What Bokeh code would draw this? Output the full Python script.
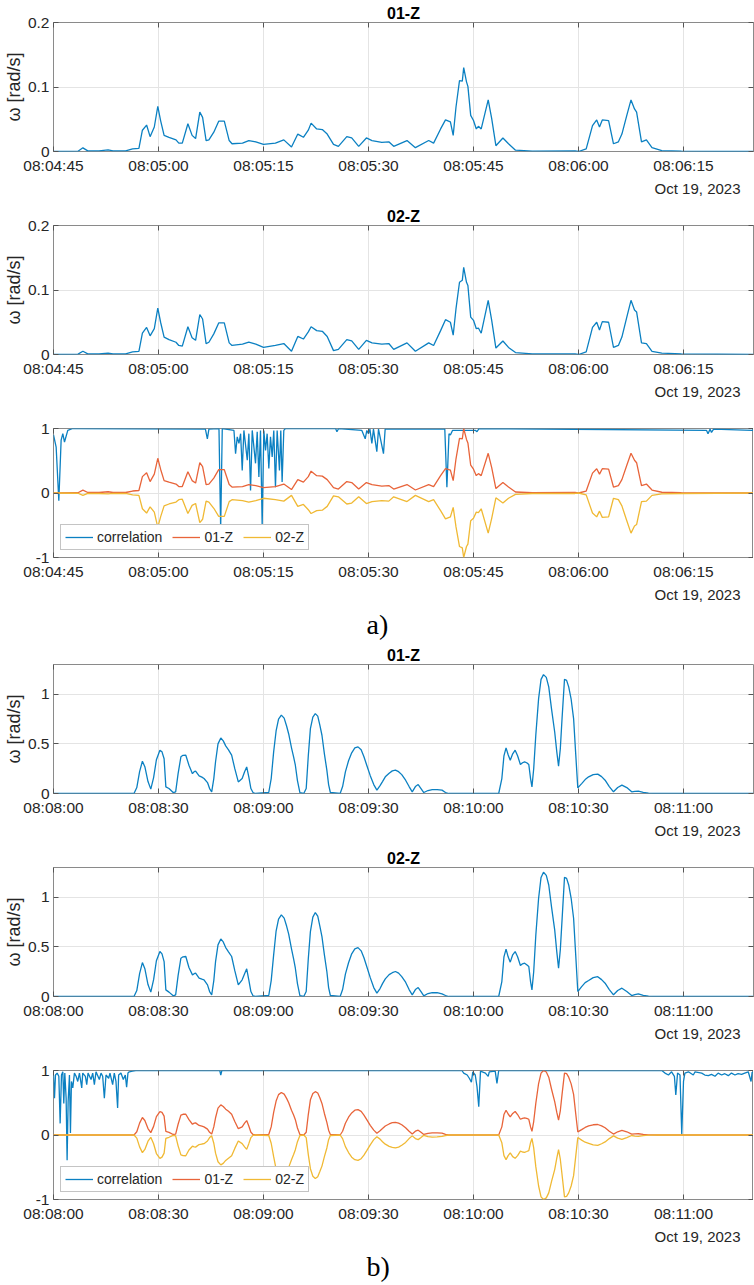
import numpy as np
import pandas as pd
from bokeh.plotting import figure
from bokeh.layouts import column
from bokeh.models import (Range1d, FixedTicker, DatetimeTickFormatter, Title,
                          LinearAxis, DatetimeAxis)
from bokeh.embed import file_html
from bokeh.resources import INLINE

# ---------------- data ----------------
DATE = "2023-10-19"
DATE_LABEL = "Oct 19, 2023"
A_START, A_END = "08:04:45", "08:06:25"
B_START, B_END = "08:08:00", "08:11:20"
A_XTICKS = ["08:04:45", "08:05:00", "08:05:15", "08:05:30", "08:05:45", "08:06:00", "08:06:15"]
B_XTICKS = ["08:08:00", "08:08:30", "08:09:00", "08:09:30", "08:10:00", "08:10:30", "08:11:00"]
OMEGA_A_YTICKS = [0, 0.1, 0.2]
OMEGA_A_YLABELS = ["0", "0.1", "0.2"]
OMEGA_B_YTICKS = [0, 0.5, 1]
OMEGA_B_YLABELS = ["0", "0.5", "1"]
CORR_YTICKS = [-1, 0, 1]
CORR_YLABELS = ["-1", "0", "1"]
OMEGA_A_YMAX = 0.2
OMEGA_B_YMAX = 1.3
YLABEL = "ω [rad/s]"
TITLE_01 = "01-Z"
TITLE_02 = "02-Z"
LEGEND_LABELS = ["correlation", "01-Z", "02-Z"]
PANEL_TAGS = ["a)", "b)"]

# event a) : seconds after 08:04:45
A_T = [0, 3.5, 4.2, 4.9, 6.5, 7.8, 8.5, 10.3, 11.3, 12.2,
       12.7, 13.3, 13.8, 14.4, 14.9, 15.3, 15.8, 16.5, 17.5, 17.9,
       18.4, 19.2, 19.8, 20.3, 20.9, 21.3, 21.8, 22.2, 22.9, 23.6,
       24.4, 25.1, 25.5, 27.0, 27.9, 28.9, 30.0, 31.7, 32.9, 34.0,
       34.9, 35.7, 36.4, 36.8, 37.6, 38.4, 39.1, 40.0, 40.7, 41.9,
       42.6, 43.6, 44.7, 45.5, 46.9, 47.9, 48.6, 50.5, 51.7, 53.6,
       54.3, 55.3, 56.0, 56.7, 57.1, 57.5, 58.0, 58.4, 58.6, 59.0,
       59.2, 59.6, 60.0, 60.4, 60.7, 61.1, 62.1, 62.6, 63.2, 64.2,
       65.0, 66.0, 68.4, 74.5, 75.0, 76.1, 77.0, 77.6, 78.0, 78.4,
       79.3, 80.0, 80.7, 81.2, 81.9, 82.5, 83.0, 83.3, 84.0, 84.7,
       85.5, 86.9, 89.7, 100]
A_01Z = [0, 0.0005, 0.0057, 0.001, 0.001, 0.0025, 0.001, 0.001, 0.004, 0.005,
         0.033, 0.041, 0.023, 0.038, 0.070, 0.048, 0.025, 0.022, 0.018, 0.013,
         0.013, 0.043, 0.025, 0.020, 0.061, 0.053, 0.017, 0.018, 0.030, 0.047,
         0.047, 0.017, 0.012, 0.013, 0.017, 0.015, 0.011, 0.013, 0.018, 0.007,
         0.027, 0.022, 0.033, 0.044, 0.035, 0.034, 0.027, 0.011, 0.008, 0.023,
         0.021, 0.008, 0.021, 0.017, 0.014, 0.015, 0.008, 0.017, 0.006, 0.017,
         0.013, 0.035, 0.049, 0.046, 0.025, 0.069, 0.110, 0.109, 0.130, 0.108,
         0.101, 0.056, 0.048, 0.035, 0.039, 0.035, 0.080, 0.051, 0.009, 0.021,
         0.012, 0.002, 0.0005, 0.001, 0, 0.004, 0.040, 0.049, 0.038, 0.049,
         0.048, 0.012, 0.015, 0.027, 0.056, 0.080, 0.066, 0.061, 0.015, 0.018,
         0.006, 0.0015, 0.0005, 0]
A_02Z = [0, 0.0005, 0.005, 0.001, 0.001, 0.002, 0.001, 0.001, 0.004, 0.005,
         0.033, 0.042, 0.029, 0.040, 0.072, 0.050, 0.027, 0.023, 0.019, 0.014,
         0.013, 0.043, 0.026, 0.022, 0.062, 0.055, 0.017, 0.019, 0.032, 0.049,
         0.049, 0.018, 0.014, 0.016, 0.019, 0.016, 0.011, 0.014, 0.017, 0.005,
         0.028, 0.024, 0.035, 0.043, 0.037, 0.036, 0.028, 0.006, 0.008, 0.023,
         0.021, 0.008, 0.022, 0.018, 0.016, 0.017, 0.008, 0.018, 0.005, 0.018,
         0.014, 0.037, 0.054, 0.050, 0.030, 0.071, 0.112, 0.115, 0.135, 0.112,
         0.107, 0.058, 0.053, 0.040, 0.041, 0.033, 0.084, 0.053, 0.010, 0.021,
         0.011, 0.003, 0.001, 0.001, 0, 0.004, 0.042, 0.050, 0.038, 0.051,
         0.050, 0.011, 0.014, 0.027, 0.058, 0.084, 0.069, 0.066, 0.018, 0.017,
         0.005, 0.002, 0.001, 0]
A_CORR_T = [0, 0.38, 0.76, 1.09, 1.33, 1.57, 2.04, 2.75, 21.7, 21.98, 22.2,
            23.64, 23.88, 24.11, 25.78, 26.01, 26.25, 26.49, 26.73, 26.96, 27.2,
            27.68, 27.91, 28.15, 28.39, 28.86, 29.1, 29.34, 29.57, 29.81, 30.05,
            30.29, 30.52, 30.76, 31.0, 31.24, 31.47, 31.71, 31.95, 32.28, 32.47,
            32.66, 32.9, 33.13, 40.3, 40.49, 40.73, 44.05, 44.53, 44.76, 45.0,
            45.2, 45.48, 45.71, 46.19, 46.43, 47.14, 47.38, 55.9, 56.2, 56.5,
            56.7, 57.0, 60.3, 60.5, 60.8, 93.3, 93.5, 93.8, 94.0, 94.3, 99.8, 100]
A_CORR = [0.90, 0.71, -0.12, 0.82, 0.92, 0.79, 0.97, 1.0, 0.99, 0.84, 0.99,
          1.0, -0.55, 1.0, 0.97, 0.61, 0.87, 0.77, 0.92, 0.35, 0.97,
          0.51, 0.92, 0.04, 0.97, 0.46, 0.95, 0.25, 0.97, -0.50, 0.97,
          0.66, 0.92, 0.38, 0.87, 0.56, 0.97, 0.09, 0.97, 0.35, 0.97,
          0.17, 0.97, 1.0, 1.0, 0.95, 1.0, 0.97, 0.84, 0.97, 0.92,
          0.99, 0.77, 0.99, 0.64, 0.99, 0.61, 0.99, 0.99, 0.09, 0.92,
          0.90, 0.97, 0.97, 0.95, 1.0, 0.97, 0.92, 0.99, 0.94, 0.99, 0.97, 0.98]

# event b) : seconds after 08:08:00
B_T = [0, 23.0, 23.8, 24.6, 25.4, 26.1, 27.0, 27.8, 28.6, 29.4,
       30.4, 31.0, 31.6, 32.1, 33.0, 34.2, 34.9, 35.6, 36.4, 37.0,
       37.8, 38.7, 39.7, 40.2, 40.6, 41.6, 42.4, 43.0, 44.0, 44.6,
       45.2, 45.8, 46.3, 47.0, 47.8, 48.5, 49.2, 50.0, 50.9, 51.8,
       52.8, 53.9, 54.6, 55.2, 55.8, 56.4, 57.0, 57.7, 61.5, 62.2,
       62.9, 63.6, 64.3, 65.1, 65.9, 66.6, 67.2, 68.0, 68.6, 69.1,
       69.7, 70.4, 71.5, 72.2, 72.8, 73.4, 74.1, 74.8, 75.5, 76.1,
       76.7, 77.4, 78.1, 78.6, 79.1, 81.9, 82.6, 83.4, 84.3, 85.2,
       86.1, 87.0, 87.9, 88.7, 89.5, 90.5, 91.5, 92.4, 93.3, 94.0,
       94.8, 95.9, 96.8, 97.7, 98.6, 99.5, 100.6, 101.6, 102.5, 103.4,
       104.2, 105.0, 105.8, 107.0, 108.2, 109.6, 111.0, 112.0, 112.9, 127.2,
       128.1, 128.7, 129.3, 129.9, 130.5, 131.2, 131.9, 132.6, 133.4, 134.0,
       134.6, 135.2, 135.8, 136.3, 136.7, 137.2, 137.8, 138.6, 139.3, 140.0,
       140.8, 141.5, 142.3, 143.2, 143.8, 144.3, 144.8, 145.3, 146.0, 146.6,
       147.2, 147.9, 148.6, 149.2, 149.8, 150.9, 151.9, 152.9, 154.2, 155.5,
       156.6, 157.6, 158.8, 160.0, 161.2, 162.4, 163.8, 165.2, 166.1, 167.1,
       168.5, 170.0, 172.8, 200]
B_01Z = [0, 0, 0.06, 0.22, 0.325, 0.27, 0.12, 0.044, 0.16, 0.34,
         0.436, 0.42, 0.35, 0.067, 0.05, 0.01, 0.017, 0.20, 0.37, 0.385,
         0.386, 0.285, 0.20, 0.22, 0.225, 0.178, 0.165, 0.151, 0.11, 0.05,
         0.017, 0.15, 0.32, 0.50, 0.56, 0.53, 0.48, 0.44, 0.386, 0.25,
         0.117, 0.151, 0.22, 0.268, 0.168, 0.05, 0.01, 0, 0.01, 0.15,
         0.42, 0.63, 0.75, 0.79, 0.76, 0.68, 0.60, 0.46, 0.37, 0.285,
         0.13, 0.01, 0, 0.05, 0.38, 0.654, 0.77, 0.805, 0.78, 0.69,
         0.587, 0.40, 0.235, 0.09, 0.01, 0, 0.07, 0.218, 0.33, 0.41,
         0.46, 0.47, 0.44, 0.37, 0.285, 0.18, 0.09, 0.034, 0.08, 0.12,
         0.168, 0.205, 0.228, 0.235, 0.22, 0.19, 0.134, 0.07, 0.017, 0.07,
         0.09, 0.05, 0.01, 0.03, 0.04, 0.04, 0.034, 0.01, 0, 0,
         0.151, 0.38, 0.46, 0.39, 0.336, 0.40, 0.436, 0.38, 0.292, 0.31,
         0.319, 0.31, 0.292, 0.15, 0.067, 0.25, 0.587, 0.956, 1.15, 1.198,
         1.17, 1.074, 0.85, 0.62, 0.42, 0.275, 0.45, 0.755, 1.151, 1.14,
         1.074, 0.95, 0.755, 0.40, 0.057, 0.1, 0.14, 0.168, 0.19, 0.195,
         0.17, 0.134, 0.07, 0.017, 0.06, 0.084, 0.06, 0.017, 0.022, 0.023,
         0.012, 0.003, 0, 0]
B_02Z = [0, 0, 0.06, 0.23, 0.342, 0.28, 0.12, 0.044, 0.17, 0.36,
         0.453, 0.43, 0.352, 0.067, 0.044, 0.007, 0.017, 0.21, 0.386, 0.40,
         0.403, 0.292, 0.218, 0.23, 0.235, 0.185, 0.175, 0.168, 0.117, 0.05,
         0.017, 0.16, 0.352, 0.52, 0.58, 0.55, 0.493, 0.45, 0.403, 0.26,
         0.117, 0.168, 0.23, 0.279, 0.168, 0.05, 0.007, 0, 0.01, 0.16,
         0.42, 0.66, 0.78, 0.822, 0.79, 0.71, 0.628, 0.48, 0.38, 0.285,
         0.13, 0.01, 0, 0.05, 0.38, 0.654, 0.80, 0.846, 0.81, 0.71,
         0.604, 0.42, 0.252, 0.09, 0.01, 0, 0.07, 0.225, 0.34, 0.43,
         0.48, 0.493, 0.46, 0.39, 0.302, 0.19, 0.09, 0.034, 0.08, 0.13,
         0.178, 0.22, 0.24, 0.252, 0.235, 0.2, 0.144, 0.07, 0.017, 0.07,
         0.09, 0.05, 0.007, 0.03, 0.04, 0.038, 0.027, 0.01, 0, 0,
         0.151, 0.40, 0.477, 0.40, 0.346, 0.42, 0.453, 0.40, 0.312, 0.33,
         0.336, 0.32, 0.302, 0.15, 0.067, 0.25, 0.614, 0.99, 1.20, 1.252,
         1.22, 1.124, 0.90, 0.671, 0.45, 0.285, 0.47, 0.772, 1.201, 1.19,
         1.124, 0.99, 0.789, 0.42, 0.05, 0.1, 0.14, 0.161, 0.19, 0.2,
         0.17, 0.134, 0.07, 0.017, 0.06, 0.084, 0.05, 0.01, 0.02, 0.027,
         0.012, 0.003, 0, 0]
B_CORR_T = [0, 0.28, 0.57, 1.04, 1.52, 1.90, 2.28, 2.66, 2.94, 3.23,
            3.61, 3.89, 4.18, 4.56, 4.84, 5.13, 5.51, 5.98, 6.46, 6.93,
            7.41, 8.07, 8.35, 9.11, 9.49, 9.87, 10.73, 11.2, 11.68, 12.15,
            13.1, 13.58, 14.05, 14.53, 15.0, 15.76, 16.14, 16.9, 17.37, 17.85,
            18.32, 18.61, 19.27, 19.94, 20.51, 20.89, 21.27, 21.65, 22.6, 23.5,
            47.5, 47.8, 48.1, 116.7, 117.2, 118.2, 118.8, 119.4, 119.8, 120.5,
            121.0, 121.5, 122.0, 123.4, 124.2, 124.5, 126.2, 126.7, 127.2, 173.8,
            174.7, 175.7, 176.6, 177.4, 177.8, 178.3, 179.0, 179.5, 180.0, 180.4,
            181.4, 182.8, 183.3, 185.2, 186.1, 187.1, 188.0, 189.0, 189.9, 190.9,
            191.8, 192.8, 193.7, 194.7, 195.6, 196.6, 197.5, 198.5, 199.3, 199.6, 200]
B_CORR = [0.93, 0.57, 0.93, 0.96, 0.91, 0.18, 0.93, 0.98, 0.49, 0.96,
          0.57, -0.39, 0.52, 0.93, 0.03, 0.83, 0.73, 0.96, 0.91, 0.83,
          0.96, 0.73, 0.96, 0.91, 0.78, 0.96, 0.86, 0.96, 0.78, 0.98,
          0.86, 0.96, 0.91, 0.57, 0.93, 0.88, 0.96, 0.78, 0.96, 0.83,
          0.42, 0.93, 0.96, 0.86, 0.93, 0.74, 0.96, 0.98, 0.99, 1.0,
          1.0, 0.93, 1.0, 1.0, 0.96, 0.93, 0.88, 0.82, 0.98, 0.93,
          0.75, 0.44, 0.99, 0.96, 0.91, 0.98, 0.99, 0.80, 1.0, 1.0,
          0.96, 0.93, 0.98, 0.91, 0.62, 0.96, 0.93, 0.01, 0.83, 0.96,
          0.98, 0.93, 0.98, 0.96, 0.93, 0.92, 0.94, 0.91, 0.96, 0.93,
          0.95, 0.92, 0.96, 0.93, 0.95, 0.94, 0.96, 0.98, 0.83, 0.97, 0.97]

# ---------------- styling ----------------
FONT = "Liberation Sans"
TXT = "#262626"
BLUE = "#0B80C2"
ORANGE = "#E8643A"
YELLOW = "#F0B934"
FRAME_W, FRAME_H = 700, 129
LEFT, RIGHT = 51, 2


def ts(hms):
    return pd.Timestamp(f"{DATE} {hms}")


def times(start, secs):
    return (ts(start) + pd.to_timedelta(np.asarray(secs, dtype=float), unit="s")).to_numpy()


def ms(hms):
    return ts(hms).value / 1e6


FMT_KEYS = ["microseconds", "milliseconds", "seconds", "minsec", "minutes", "hourmin", "hours"]


def style_axis(ax, show_labels=True, standoff=4):
    ax.axis_line_color = None
    ax.major_tick_in = 5
    ax.major_tick_out = 0
    ax.minor_tick_line_color = None
    ax.major_tick_line_color = "#555555"
    ax.major_label_text_font = FONT
    ax.major_label_text_color = TXT
    if show_labels:
        ax.major_label_text_font_size = "15.5px"
        ax.major_label_standoff = standoff
    else:
        ax.major_label_text_font_size = "0px"
        ax.major_label_text_color = None
        ax.major_label_standoff = 0


def make_fig(start, end, xticks, y0, y1, yticks, ylabels, title=None, ylabel=None,
             top=22, bottom=60, tag=None, tag_standoff=6):
    p = figure(x_axis_type="datetime", output_backend="svg", toolbar_location=None,
               frame_width=FRAME_W, frame_height=FRAME_H,
               min_border_left=LEFT, min_border_right=RIGHT, min_border_top=top,
               min_border_bottom=bottom,
               x_range=Range1d(ts(start), ts(end)), y_range=Range1d(y0, y1),
               title=title)
    if title:
        p.title.align = "center"
        p.title.text_font = FONT
        p.title.text_font_size = "16px"
        p.title.text_font_style = "bold"
        p.title.text_color = "black"
        p.title.standoff = 2
    xt = FixedTicker(ticks=[ms(t) for t in xticks])
    yt = FixedTicker(ticks=yticks)
    fmt = DatetimeTickFormatter(**{k: "%H:%M:%S" for k in FMT_KEYS})
    xa = p.xaxis[0]
    xa.ticker = xt
    xa.formatter = fmt
    style_axis(xa, standoff=5)
    ya = p.yaxis[0]
    ya.ticker = yt
    ya.major_label_overrides = dict(zip(yticks, ylabels))
    style_axis(ya, standoff=4)
    if ylabel:
        ya.axis_label = ylabel
        ya.axis_label_text_font = FONT
        ya.axis_label_text_font_size = "18px"
        ya.axis_label_text_font_style = "normal"
        ya.axis_label_text_color = TXT
        ya.axis_label_standoff = 1
    topax = DatetimeAxis(ticker=xt, formatter=fmt)
    style_axis(topax, show_labels=False)
    p.add_layout(topax, "above")
    right = LinearAxis(ticker=yt)
    style_axis(right, show_labels=False)
    p.add_layout(right, "right")
    p.xgrid.ticker = xt
    p.ygrid.ticker = yt
    p.grid.grid_line_color = "#e4e4e4"
    p.grid.grid_line_width = 1
    p.outline_line_color = "#8a8a8a"
    p.outline_line_width = 1
    p.add_layout(Title(text=DATE_LABEL, align="right", offset=13, text_font=FONT,
                       text_font_size="15px", text_font_style="normal",
                       text_color=TXT, standoff=2), "below")
    if tag:
        p.add_layout(Title(text=tag, align="left", offset=313,
                           text_font="Liberation Serif", text_font_size="28px",
                           text_font_style="normal", text_color="black",
                           standoff=tag_standoff),
                     "below")
    return p


def omega_fig(start, end, xticks, ymax, yticks, ylabels, t, v, title, bottom):
    p = make_fig(start, end, xticks, 0, ymax, yticks, ylabels, title=title, ylabel=YLABEL,
                 top=22, bottom=bottom)
    p.line(times(start, t), v, line_color=BLUE, line_width=1.3)
    return p


def corr_fig(start, end, xticks, ct, cv, t, v1, v2, tag, bottom, tag_standoff):
    p = make_fig(start, end, xticks, -1, 1, CORR_YTICKS, CORR_YLABELS, top=14,
                 bottom=bottom, tag=tag, tag_standoff=tag_standoff)
    x = times(start, t)
    n1 = np.asarray(v1) / np.max(v1)
    n2 = -np.asarray(v2) / np.max(v2)
    p.line(times(start, ct), cv, line_color=BLUE, line_width=1.3, legend_label=LEGEND_LABELS[0])
    p.line(x, n1, line_color=ORANGE, line_width=1.3, legend_label=LEGEND_LABELS[1])
    p.line(x, n2, line_color=YELLOW, line_width=1.3, legend_label=LEGEND_LABELS[2])
    lg = p.legend[0]
    lg.orientation = "horizontal"
    lg.location = "bottom_left"
    lg.margin = 7
    lg.padding = 4
    lg.spacing = 10
    lg.glyph_width = 28
    lg.glyph_height = 14
    lg.label_height = 14
    lg.label_standoff = 4
    lg.label_text_font = FONT
    lg.label_text_font_size = "14px"
    lg.label_text_color = TXT
    lg.border_line_color = "#8a8a8a"
    lg.background_fill_alpha = 1.0
    lg.background_fill_color = "white"
    return p


p1 = omega_fig(A_START, A_END, A_XTICKS, OMEGA_A_YMAX, OMEGA_A_YTICKS, OMEGA_A_YLABELS, A_T, A_01Z, TITLE_01, 52)
p2 = omega_fig(A_START, A_END, A_XTICKS, OMEGA_A_YMAX, OMEGA_A_YTICKS, OMEGA_A_YLABELS, A_T, A_02Z, TITLE_02, 60)
p3 = corr_fig(A_START, A_END, A_XTICKS, A_CORR_T, A_CORR, A_T, A_01Z, A_02Z, PANEL_TAGS[0], 84, 6)
p4 = omega_fig(B_START, B_END, B_XTICKS, OMEGA_B_YMAX, OMEGA_B_YTICKS, OMEGA_B_YLABELS, B_T, B_01Z, TITLE_01, 52)
p5 = omega_fig(B_START, B_END, B_XTICKS, OMEGA_B_YMAX, OMEGA_B_YTICKS, OMEGA_B_YLABELS, B_T, B_02Z, TITLE_02, 60)
p6 = corr_fig(B_START, B_END, B_XTICKS, B_CORR_T, B_CORR, B_T, B_01Z, B_02Z, PANEL_TAGS[1], 85, 6)

layout = column(p1, p2, p3, p4, p5, p6, spacing=0)
open("out.html", "w").write(file_html(layout, INLINE))
